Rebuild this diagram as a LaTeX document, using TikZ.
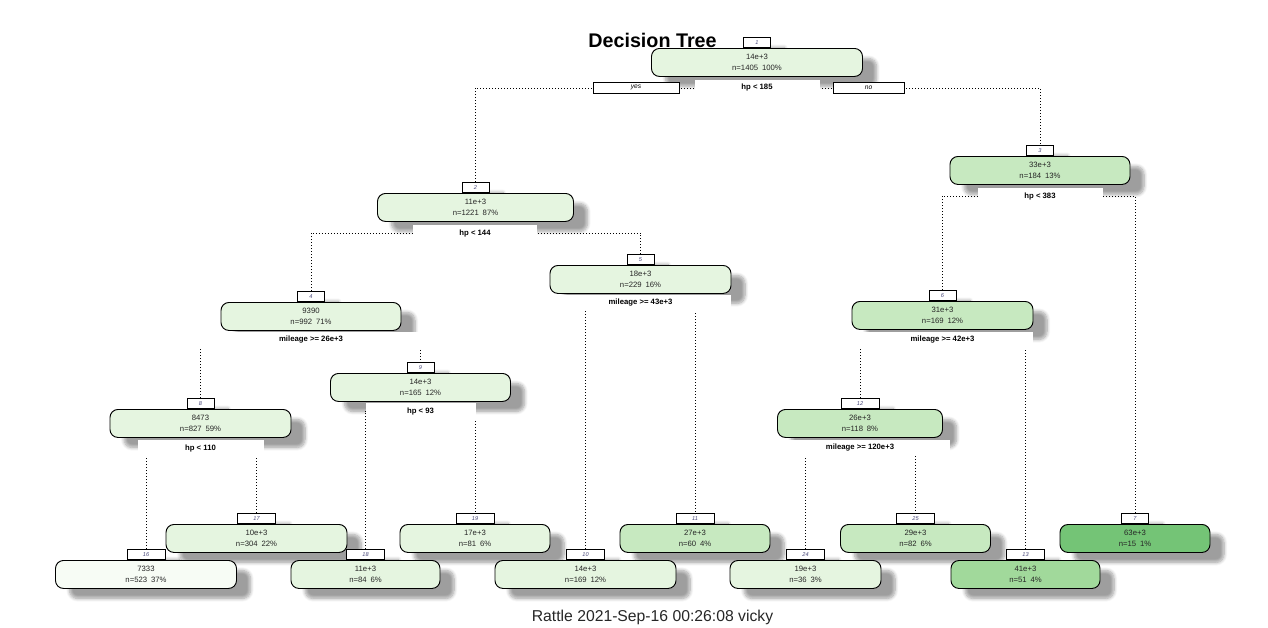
\documentclass[tikz,border=0pt]{standalone}
\usepackage{fontspec}
\setmainfont{Liberation Sans}
\usetikzlibrary{positioning,shadows.blur}

\definecolor{greenA}{HTML}{F7FCF5}
\definecolor{greenB}{HTML}{E5F5E0}
\definecolor{greenC}{HTML}{C7E9C0}
\definecolor{greenD}{HTML}{A1D99B}
\definecolor{greenE}{HTML}{74C476}
\definecolor{numcol}{RGB}{70,70,120}

\pgfdeclarelayer{boxes}
\pgfdeclarelayer{edges}
\pgfsetlayers{boxes,edges,main}

\begin{document}
\begin{tikzpicture}[
  x=0.75pt, y=-0.75pt,
  boxshadow/.style = {
    blur shadow={shadow xshift=10.5pt, shadow yshift=-7.5pt,
      shadow blur radius=2.5pt, shadow blur steps=8, shadow opacity=38}
  },
  treebox/.style = {
    draw,
    line width=0.7pt,
    rounded corners=6pt,
    minimum width=#1*0.75pt,
    minimum height=21pt,
    inner sep=0pt,
    align=center,
    text=black!85,
    font=\fontsize{5.8}{8.25}\selectfont,
    boxshadow
  },
  numbox/.style = {
    draw,
    fill=white,
    line width=0.6pt,
    minimum width=#1*0.75pt,
    minimum height=7.5pt,
    inner sep=0pt,
    anchor=south,
    text=numcol,
    font=\fontsize{4.2}{4}\selectfont\itshape,
    boxshadow
  },
  numbox/.default=27,
  splitlab/.style = {
    fill=white,
    minimum width=#1*0.75pt,
    minimum height=12pt,
    inner sep=0pt,
    font=\fontsize{5.8}{6}\selectfont\bfseries
  },
  yesno/.style = {
    draw,
    fill=white,
    line width=0.6pt,
    minimum width=#1*0.75pt,
    minimum height=8.25pt,
    inner sep=0pt,
    font=\fontsize{5}{5}\selectfont\itshape
  },
  branch/.style = {line width=0.6pt, dash pattern=on 0.6pt off 1.65pt},
]
  \useasboundingbox (0,0) rectangle (1268,628);

  \node (title) [font=\fontsize{14.8}{16}\selectfont\bfseries] at (652.5,40) {Decision Tree};

  \begin{pgfonlayer}{boxes}
  % split nodes
  \node (l1) [numbox] at (757,48) {1};
  \node (n1) [treebox=211, fill=greenB, below=0pt of l1] {14e+3\\n=1405\enspace 100\%};
  \node (l2) [numbox] at (475.5,193) {2};
  \node (n2) [treebox=196, fill=greenB, below=0pt of l2] {11e+3\\n=1221\enspace 87\%};
  \node (l3) [numbox] at (1040,156) {3};
  \node (n3) [treebox=180, fill=greenC, below=0pt of l3] {33e+3\\n=184\enspace 13\%};
  \node (l4) [numbox] at (311,302) {4};
  \node (n4) [treebox=180, fill=greenB, below=0pt of l4] {9390\\n=992\enspace 71\%};
  \node (l5) [numbox] at (640.5,265) {5};
  \node (n5) [treebox=181, fill=greenB, below=0pt of l5] {18e+3\\n=229\enspace 16\%};
  \node (l6) [numbox] at (942.5,301) {6};
  \node (n6) [treebox=181, fill=greenC, below=0pt of l6] {31e+3\\n=169\enspace 12\%};
  \node (l9) [numbox] at (420.5,373) {9};
  \node (n9) [treebox=180, fill=greenB, below=0pt of l9] {14e+3\\n=165\enspace 12\%};
  \node (l8) [numbox] at (200.5,409) {8};
  \node (n8) [treebox=181, fill=greenB, below=0pt of l8] {8473\\n=827\enspace 59\%};
  \node (l12) [numbox=38] at (860,409) {12};
  \node (n12) [treebox=165, fill=greenC, below=0pt of l12] {26e+3\\n=118\enspace 8\%};

  % leaves, upper row
  \node (l17) [numbox=38] at (256.5,524) {17};
  \node (n17) [treebox=181, fill=greenB, below=0pt of l17] {10e+3\\n=304\enspace 22\%};
  \node (l19) [numbox=38] at (475,524) {19};
  \node (n19) [treebox=150, fill=greenB, below=0pt of l19] {17e+3\\n=81\enspace 6\%};
  \node (l11) [numbox=38] at (695,524) {11};
  \node (n11) [treebox=150, fill=greenC, below=0pt of l11] {27e+3\\n=60\enspace 4\%};
  \node (l25) [numbox=38] at (915.5,524) {25};
  \node (n25) [treebox=150, fill=greenC, below=0pt of l25] {29e+3\\n=82\enspace 6\%};
  \node (l7) [numbox] at (1135,524) {7};
  \node (n7) [treebox=150, fill=greenE, below=0pt of l7] {63e+3\\n=15\enspace 1\%};

  % leaves, lower row
  \node (l16) [numbox=38] at (146,560) {16};
  \node (n16) [treebox=181, fill=greenA, below=0pt of l16] {7333\\n=523\enspace 37\%};
  \node (l18) [numbox=38] at (365.5,560) {18};
  \node (n18) [treebox=149, fill=greenB, below=0pt of l18] {11e+3\\n=84\enspace 6\%};
  \node (l10) [numbox=38] at (585.5,560) {10};
  \node (n10) [treebox=181, fill=greenB, below=0pt of l10] {14e+3\\n=169\enspace 12\%};
  \node (l24) [numbox=38] at (805.5,560) {24};
  \node (n24) [treebox=151, fill=greenB, below=0pt of l24] {19e+3\\n=36\enspace 3\%};
  \node (l13) [numbox=38] at (1025.5,560) {13};
  \node (n13) [treebox=149, fill=greenD, below=0pt of l13] {41e+3\\n=51\enspace 4\%};
  \end{pgfonlayer}

  % split labels
  \node (s1) [splitlab=125] at (757,88) {hp < 185};
  \node (s2) [splitlab=124] at (475,233) {hp < 144};
  \node (s3) [splitlab=125] at (1040,196) {hp < 383};
  \node (s4) [splitlab=230] at (311,340) {mileage >= 26e+3};
  \node (s5) [splitlab=180] at (640.5,303) {mileage >= 43e+3};
  \node (s6) [splitlab=180] at (942.5,340) {mileage >= 42e+3};
  \node (s8) [splitlab=126] at (200.5,448) {hp < 110};
  \node (s9) [splitlab=110] at (420.5,411) {hp < 93};
  \node (s12) [splitlab=180] at (860,448) {mileage >= 120e+3};

  \node (yes) [yesno=86] at (636,87.5) {yes};
  \node (no) [yesno=71] at (868.5,87.5) {no};

  \begin{pgfonlayer}{edges}
  \draw[branch] (l2.north) |- (s1.center) -| (l3.north);
  \draw[branch] (l4.north) |- (s2.center) -| (l5.north);
  \draw[branch] (l6.north) |- (s3.center) -| (l7.north);
  \draw[branch] (l8.north) |- (s4.center) -| (l9.north);
  \draw[branch] (l10.north) |- (s5.center) -| (l11.north);
  \draw[branch] (l12.north) |- (s6.center) -| (l13.north);
  \draw[branch] (l16.north) |- (s8.center) -| (l17.north);
  \draw[branch] (l18.north) |- (s9.center) -| (l19.north);
  \draw[branch] (l24.north) |- (s12.center) -| (l25.north);
  \end{pgfonlayer}

  \node (stamp) [font=\fontsize{11.8}{13}\selectfont, text=black!85] at (652.5,617) {Rattle 2021-Sep-16 00:26:08 vicky};
\end{tikzpicture}
\end{document}
